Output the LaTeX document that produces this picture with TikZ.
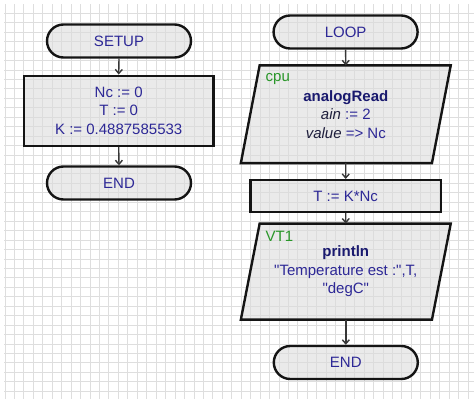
\documentclass[tikz,border=0pt]{standalone}
\usepackage{fontspec}
\setmainfont{Liberation Sans}[Ligatures=TeXOff]
\usetikzlibrary{arrows.meta}
\definecolor{txtblue}{RGB}{45,40,150}
\definecolor{boldblue}{RGB}{25,25,110}
\definecolor{italdark}{RGB}{30,30,60}
\definecolor{lblgreen}{RGB}{40,150,40}
\definecolor{gridcol}{RGB}{222,222,222}
\definecolor{shapefill}{RGB}{220,220,220}
\definecolor{bordercol}{RGB}{20,20,20}
\definecolor{arrowgray}{RGB}{55,55,55}
\pgfdeclarelayer{gridlayer}
\pgfdeclarelayer{shapelayer}
\pgfsetlayers{gridlayer,shapelayer,main}
\tikzset{
  basefont/.style={font=\fontsize{15}{18.5}\selectfont, text=txtblue},
  gridline/.style={draw=gridcol, line width=1pt},
  boxline/.style={draw=bordercol, line width=2.4pt, fill=shapefill, fill opacity=0.6, text opacity=1},
  term/.style={basefont, boxline, rounded corners=16.5pt, minimum width=144pt, minimum height=33pt, inner sep=0pt},
  proc/.style={basefont, boxline, inner sep=0pt, align=center},
  paratext/.style={basefont, inner sep=0pt, align=center, minimum width=188.7pt, outer sep=1.2pt},
  paraline/.style={draw=bordercol, line width=2.4pt, fill=shapefill, fill opacity=0.6},
  lbl/.style={font=\fontsize{15}{18.5}\selectfont, text=lblgreen, inner sep=0pt},
  arr/.style={draw=arrowgray, line width=1.4pt, -{Straight Barb[length=4pt,width=7pt]}}
}
\begin{document}
\begin{tikzpicture}[x=1pt,y=-1pt]
\useasboundingbox (0,0) rectangle (474,399);
\begin{pgfonlayer}{gridlayer}
\fill[white] (0,0) rectangle (474,399);
\begin{scope}
\clip (4,4) rectangle (474,399);
\foreach \i in {0,...,49} \draw[gridline] ({5+9.45*\i},4) -- ({5+9.45*\i},399);
\foreach \j in {0,...,40} \draw[gridline] (4,{13.3+9.45*\j}) -- (474,{13.3+9.45*\j});
\end{scope}
\end{pgfonlayer}

% left column
\node[term] (setup) at (119,41) {SETUP};
\node[proc, minimum width=189.3pt, minimum height=70pt] (init) at (118.7,110.7)
  {Nc := 0\\T := 0\\K := 0.4887585533};
\node[term] (end1) at (119,183) {END};

% right column
\node[term] (loop) at (345.6,32) {LOOP};
\node[paratext, minimum height=95.3pt] (rd) at (345.8,114.2)
  {{\bfseries\color{boldblue}analogRead}\\{\itshape\color{italdark}ain} := 2\\{\itshape\color{italdark}value} => Nc};
\node[lbl, anchor=base west] (cpul) at (265.5,81.5) {cpu};
\node[proc, minimum width=190.7pt, minimum height=31.7pt] (tk) at (345.7,196) {T := K*Nc};
\node[paratext, minimum height=93.7pt] (pr) at (345.8,271.6)
  {{\bfseries\color{boldblue}println}\\"Temperature est :",T,\\"degC"};
\node[lbl, anchor=base west] (vtl) at (265.5,241) {VT1};
\node[term] (end2) at (345.8,362.5) {END};

\begin{pgfonlayer}{shapelayer}
\path[paraline] ([xshift=9.4pt]rd.north west) -- ([xshift=9.4pt]rd.north east)
  -- ([xshift=-9.4pt]rd.south east) -- ([xshift=-9.4pt]rd.south west) -- cycle;
\path[paraline] ([xshift=9.4pt]pr.north west) -- ([xshift=9.4pt]pr.north east)
  -- ([xshift=-9.4pt]pr.south east) -- ([xshift=-9.4pt]pr.south west) -- cycle;
\end{pgfonlayer}

\draw[arr] (setup.south) -- (init.north);
\draw[arr] (init.south) -- (end1.north);
\draw[arr] (loop.south) -- (rd.north);
\draw[arr] (rd.south) -- (tk.north);
\draw[arr] (tk.south) -- (pr.north);
\draw[arr] (pr.south) -- (end2.north);
\end{tikzpicture}
\end{document}
